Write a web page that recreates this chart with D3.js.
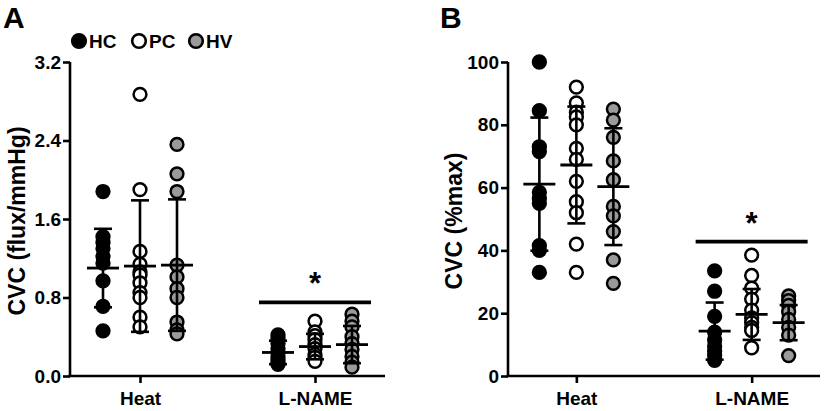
<!DOCTYPE html>
<html lang="en">
<head>
  <meta charset="UTF-8" />
  <title>CVC panels</title>
  <script src="https://d3js.org/d3.v7.min.js"></script>
  <style>
    body { margin: 0; background: #fff; }
    text { font-family: Arial, "Liberation Sans", sans-serif; font-weight: bold; }
  </style>
</head>
<body>
  <script>
    // Categories and groups
    const conditions = ['Heat', 'L-NAME'];
    const groups = ['HC', 'PC', 'HV'];
    const groupFill = { HC: '#000', PC: '#fff', HV: '#9a9a9a' };

    // Panel A: CVC (flux/mmHg), individual points
    const aHeatHC = [1.88, 1.42, 1.36, 1.30, 1.22, 1.15, 0.97, 0.71, 0.46];
    const aHeatPC = [2.87, 1.90, 1.27, 1.14, 1.06, 1.03, 0.95, 0.85, 0.80, 0.60, 0.50];
    const aHeatHV = [2.36, 2.06, 1.88, 1.13, 1.01, 0.89, 0.80, 0.55, 0.47, 0.43];
    const aLnameHC = [0.42, 0.38, 0.33, 0.28, 0.24, 0.20, 0.17, 0.14, 0.12];
    const aLnamePC = [0.56, 0.45, 0.41, 0.37, 0.32, 0.28, 0.22, 0.19, 0.15];
    const aLnameHV = [0.63, 0.56, 0.50, 0.40, 0.33, 0.27, 0.20, 0.14, 0.09];
    // Panel A: mean and SD (HC, PC, HV)
    const aHeatMean = [1.10, 1.12, 1.13];
    const aHeatSD = [0.40, 0.67, 0.67];
    const aLnameMean = [0.24, 0.30, 0.32];
    const aLnameSD = [0.12, 0.13, 0.19];

    // Panel B: CVC (%max), individual points
    const bHeatHC = [100, 84.5, 73, 71.5, 58.5, 56.5, 55, 41.5, 40, 33];
    const bHeatPC = [92, 87, 84, 82.5, 80, 72.5, 69, 62, 55.5, 52, 42, 33];
    const bHeatHV = [85, 81.5, 76, 68.5, 62.5, 54, 51, 46, 37, 29.5];
    const bLnameHC = [33.5, 27, 19, 14, 11.5, 9.5, 8, 6.5, 5];
    const bLnamePC = [38.5, 32, 28, 24.5, 21, 18.5, 17, 15.5, 14.5, 9];
    const bLnameHV = [25.5, 24, 22.5, 20.5, 18, 15.5, 13, 6.5];
    // Panel B: mean and SD (HC, PC, HV)
    const bHeatMean = [61.1, 67.2, 60.3];
    const bHeatSD = [21.2, 18.6, 18.6];
    const bLnameMean = [14.3, 19.6, 17.0];
    const bLnameSD = [9.1, 8.1, 5.6];

    // Tick values
    const aTicks = [0, 0.8, 1.6, 2.4, 3.2];
    const bTicks = [0, 20, 40, 60, 80, 100];

    const svg = d3.select('body').append('svg')
      .attr('width', 825)
      .attr('height', 411);

    function drawPanel(p) {
      const g = svg.append('g');

      const x = d3.scalePoint()
        .domain(conditions)
        .range([p.left, p.right])
        .padding(p.pad);

      const xg = d3.scalePoint()
        .domain(groups)
        .range([-37, 37]);

      const y = d3.scaleLinear()
        .domain(p.yDomain)
        .range([p.bottom, p.top]);

      // Axes
      const yAxis = g.append('g')
        .attr('transform', `translate(${p.left},0)`)
        .call(d3.axisLeft(y).tickValues(p.ticks).tickFormat(p.fmt).tickSize(7).tickPadding(2).tickSizeOuter(0));

      const xAxis = g.append('g')
        .attr('transform', `translate(0,${p.bottom})`)
        .call(d3.axisBottom(x).tickSize(7).tickPadding(9).tickSizeOuter(0));

      [yAxis, xAxis].forEach(a => {
        a.select('.domain').attr('stroke', '#000').attr('stroke-width', 2.6);
        a.selectAll('.tick line').attr('stroke', '#000').attr('stroke-width', 2.6);
        a.selectAll('.tick text').attr('fill', '#000').style('font-size', '19px');
      });
      xAxis.select('.domain').attr('d', `M${p.left - 1.3},0H${p.right}`);
      yAxis.select('.domain').attr('d', `M0,${p.bottom}V${p.top}`);

      // Y title
      g.append('text')
        .attr('transform', `translate(${p.titleX},${(p.top + p.bottom) / 2 + 2}) rotate(-90)`)
        .attr('text-anchor', 'middle')
        .style('font-size', '23px')
        .text(p.title);

      // Points
      p.series.forEach(s => {
        const cx = x(s.cond) + xg(s.group);
        g.append('g').selectAll('circle')
          .data(s.values)
          .enter().append('circle')
          .attr('cx', cx)
          .attr('cy', d => y(d))
          .attr('r', 6.4)
          .attr('fill', groupFill[s.group])
          .attr('stroke', '#000')
          .attr('stroke-width', 2.5);
      });

      // Mean +/- SD
      p.stats.forEach(s => {
        s.mean.forEach((m, i) => {
          const cx = x(s.cond) + xg(groups[i]);
          const hi = m + s.sd[i], lo = m - s.sd[i];
          const eb = g.append('g').attr('stroke', '#000');
          eb.append('line')
            .attr('x1', cx).attr('x2', cx)
            .attr('y1', y(hi)).attr('y2', y(lo))
            .attr('stroke-width', 2.6);
          [hi, lo].forEach(v => {
            eb.append('line')
              .attr('x1', cx - 9).attr('x2', cx + 9)
              .attr('y1', y(v)).attr('y2', y(v))
              .attr('stroke-width', 2.6);
          });
          eb.append('line')
            .attr('x1', cx - 16).attr('x2', cx + 16)
            .attr('y1', y(m)).attr('y2', y(m))
            .attr('stroke-width', 2.8);
        });
      });

      // Significance bar over L-NAME
      const sx = x('L-NAME');
      g.append('line')
        .attr('x1', sx - 56).attr('x2', sx + 56)
        .attr('y1', y(p.sigAt)).attr('y2', y(p.sigAt))
        .attr('stroke', '#000')
        .attr('stroke-width', 3.6);
      g.append('text')
        .attr('x', sx)
        .attr('y', y(p.sigAt) - 8)
        .attr('text-anchor', 'middle')
        .style('font-size', '31px')
        .text('*');

      // Panel letter
      g.append('text')
        .attr('x', p.letterX)
        .attr('y', 28)
        .style('font-size', '30px')
        .text(p.letter);
    }

    drawPanel({
      letter: 'A', letterX: 3,
      left: 70, right: 385, top: 62, bottom: 376, pad: 0.4,
      yDomain: [0, 3.2], ticks: aTicks, fmt: d3.format('.1f'),
      title: 'CVC (flux/mmHg)', titleX: 25,
      sigAt: 0.75,
      series: [
        { cond: 'Heat', group: 'HC', values: aHeatHC },
        { cond: 'Heat', group: 'PC', values: aHeatPC },
        { cond: 'Heat', group: 'HV', values: aHeatHV },
        { cond: 'L-NAME', group: 'HC', values: aLnameHC },
        { cond: 'L-NAME', group: 'PC', values: aLnamePC },
        { cond: 'L-NAME', group: 'HV', values: aLnameHV }
      ],
      stats: [
        { cond: 'Heat', mean: aHeatMean, sd: aHeatSD },
        { cond: 'L-NAME', mean: aLnameMean, sd: aLnameSD }
      ]
    });

    drawPanel({
      letter: 'B', letterX: 440,
      left: 508, right: 820, top: 62, bottom: 376, pad: 0.39,
      yDomain: [0, 100], ticks: bTicks, fmt: d3.format('d'),
      title: 'CVC (%max)', titleX: 462,
      sigAt: 42.8,
      series: [
        { cond: 'Heat', group: 'HC', values: bHeatHC },
        { cond: 'Heat', group: 'PC', values: bHeatPC },
        { cond: 'Heat', group: 'HV', values: bHeatHV },
        { cond: 'L-NAME', group: 'HC', values: bLnameHC },
        { cond: 'L-NAME', group: 'PC', values: bLnamePC },
        { cond: 'L-NAME', group: 'HV', values: bLnameHV }
      ],
      stats: [
        { cond: 'Heat', mean: bHeatMean, sd: bHeatSD },
        { cond: 'L-NAME', mean: bLnameMean, sd: bLnameSD }
      ]
    });

    // Legend
    const legendX = [79, 139, 196];
    const legend = svg.append('g')
      .selectAll('g')
      .data(groups)
      .enter().append('g')
      .attr('transform', (d, i) => `translate(${legendX[i]},41)`);
    legend.append('circle')
      .attr('r', 6.8)
      .attr('fill', d => groupFill[d])
      .attr('stroke', '#000')
      .attr('stroke-width', 2.6);
    legend.append('text')
      .attr('x', 10)
      .attr('y', 7)
      .style('font-size', '19px')
      .text(d => d);
  </script>
</body>
</html>
